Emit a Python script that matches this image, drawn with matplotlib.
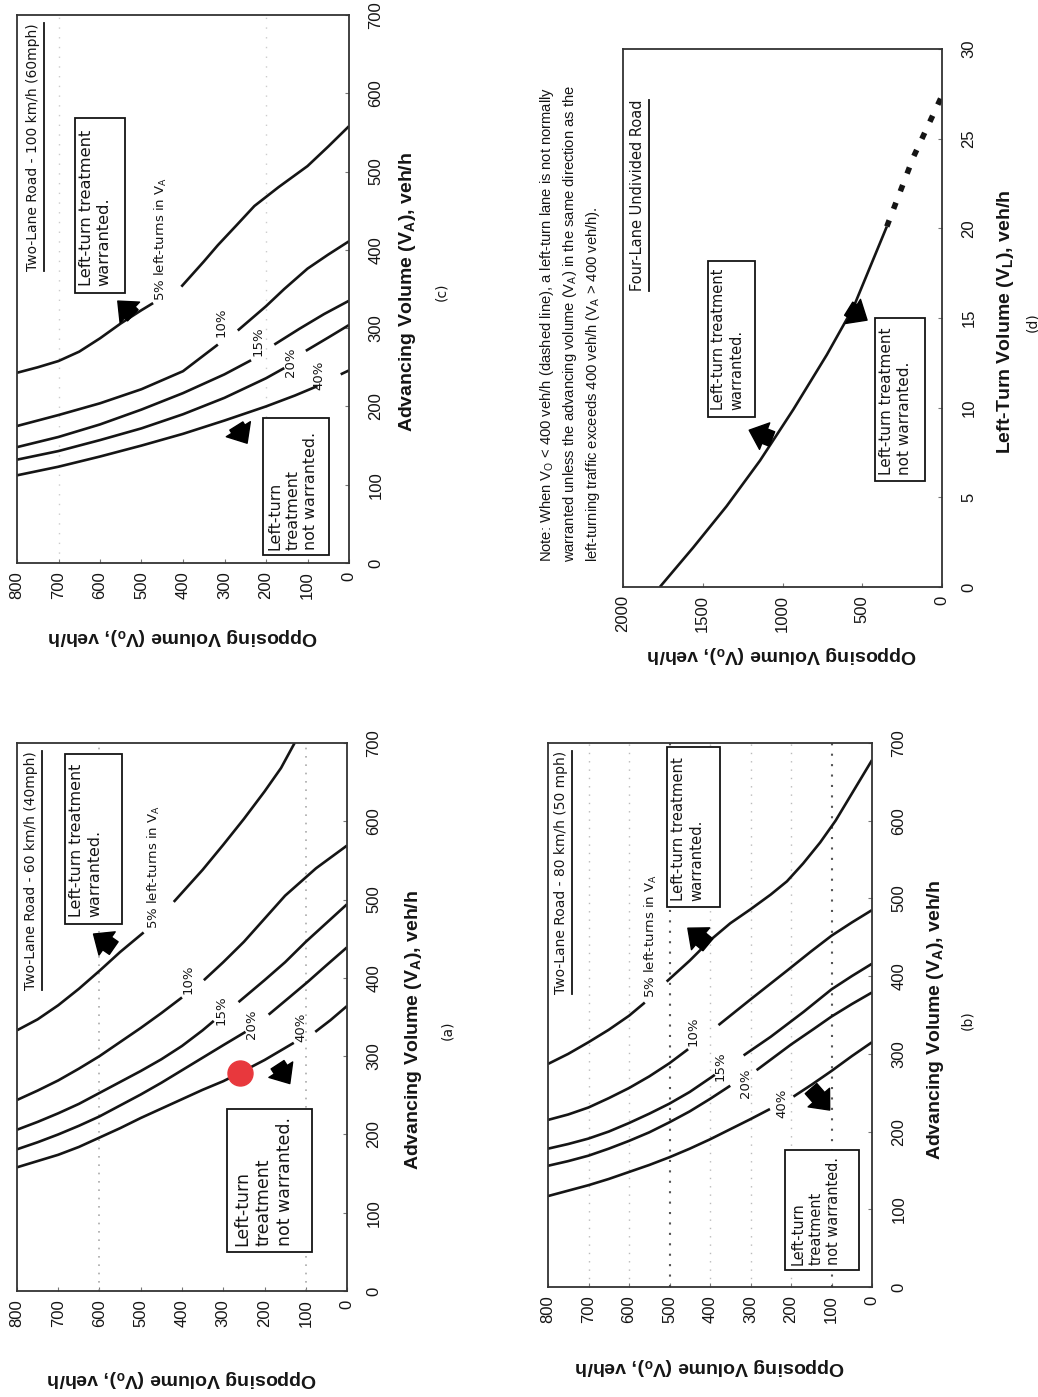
import numpy as np
import matplotlib.pyplot as plt
from matplotlib.patches import FancyArrowPatch, Rectangle

nan = np.nan
W, H = 1038, 1397

plt.rcParams['font.family'] = ['Liberation Sans', 'DejaVu Sans']
plt.rcParams['mathtext.fontset'] = 'custom'
plt.rcParams['mathtext.rm'] = 'Liberation Sans'
plt.rcParams['mathtext.bf'] = 'Liberation Sans:bold'

PCT = ["5% left-turns in V$_\\mathregular{A}$", "10%", "15%", "20%", "40%"]

# (a) Two-lane road, 60 km/h: opposing volume and advancing volume (veh/h)
# one list per curve, nan = gap where the curve label sits
A_OPP = [
    [800, 750, 700, 650, 600, 550, 493, nan, 420, 350, 300, 250, 200, 160, 127],
    [800, 750, 700, 650, 600, 550, 500, 450, 400, nan, 347, 300, 250, 150, 75, 0],
    [800, 750, 700, 650, 600, 550, 500, 450, 400, 350, 323, nan, 263, 200, 150, 100, 50, 0],
    [800, 750, 700, 650, 600, 550, 500, 450, 400, 350, 300, 246, nan, 190, 140, 95, 50, 0],
    [800, 750, 700, 650, 600, 550, 500, 450, 400, 350, 300, 262, 200, 129, nan, 77, 40, 0],
]
A_ADV = [
    [333, 347, 365, 386, 409, 433, 458, nan, 497, 538, 570, 603, 638, 668, 700],
    [244, 256, 269, 284, 300, 318, 336, 355, 375, nan, 397, 420, 446, 505, 540, 569],
    [206, 216, 227, 239, 253, 267, 281, 296, 313, 333, 345, nan, 369, 397, 420, 446, 470, 494],
    [181, 190, 200, 211, 223, 237, 251, 266, 282, 298, 314, 331, nan, 353, 375, 395, 416, 439],
    [158, 166, 174, 184, 196, 208, 221, 233, 245, 257, 268, 278, 295, 317, nan, 331, 346, 364],
]
A_POINT_OPP = [259]
A_POINT_ADV = [278]

# (b) Two-lane road, 80 km/h
B_OPP = [
    [800, 750, 700, 650, 600, 561, nan, 507, 450, 400, 350, 300, 250, 210, 170, 128, 90, 45, 0],
    [800, 750, 700, 650, 600, 550, 500, 454, nan, 379, 300, 210, 150, 100, 50, 0],
    [800, 750, 700, 650, 600, 550, 500, 450, 388, nan, 317, 250, 169, 100, 50, 0],
    [800, 750, 700, 650, 600, 550, 500, 450, 400, 350, nan, 285, 200, 144, 100, 50, 0],
    [800, 750, 700, 650, 600, 550, 500, 450, 400, 350, 300, 252, nan, 194, 150, 100, 50, 0],
]
B_ADV = [
    [287, 300, 315, 331, 349, 366, nan, 393, 420, 446, 468, 486, 505, 522, 545, 572, 600, 639, 678],
    [215, 222, 231, 243, 256, 271, 288, 306, nan, 337, 370, 407, 432, 452, 469, 485],
    [178, 184, 191, 200, 211, 223, 236, 251, 273, nan, 298, 322, 354, 383, 400, 416],
    [156, 162, 169, 178, 188, 199, 212, 226, 242, 259, nan, 279, 312, 332, 348, 364, 379],
    [117, 124, 131, 139, 148, 157, 167, 178, 190, 203, 216, 229, nan, 245, 260, 278, 297, 315],
]

# (c) Two-lane road, 100 km/h
C_OPP = [
    [800, 750, 700, 650, 600, 550, 500, 472, nan, 404, 350, 316, 270, 228, 170, 100, 50, 0],
    [800, 700, 600, 500, 400, 316, nan, 268, 200, 156, 100, 50, 0],
    [800, 700, 600, 500, 400, 300, 236, nan, 180, 120, 60, 0],
    [800, 700, 600, 500, 400, 300, 200, 156, nan, 104, 50, 0],
    [800, 700, 600, 500, 400, 300, 200, 130, 76, nan, 20, 0],
]
C_ADV = [
    [243, 250, 258, 270, 287, 306, 323, 332, nan, 353, 385, 406, 432, 456, 480, 507, 532, 558],
    [175, 189, 204, 222, 245, 279, nan, 297, 328, 350, 376, 394, 411],
    [148, 161, 177, 196, 217, 241, 259, nan, 279, 299, 318, 335],
    [132, 143, 157, 172, 190, 211, 236, 249, nan, 271, 288, 304],
    [112, 123, 136, 150, 165, 182, 200, 214, 226, nan, 241, 246],
]

# (d) Four-lane undivided road: opposing volume vs left-turn volume (veh/h)
D_OPP = [1769, 1560, 1351, 1141, 932, 722, 555, 346]
D_VL = [0, 2.2, 4.5, 7.05, 9.9, 12.95, 15.6, 20.1]
D_OPP_DASH = [346, 178, 0]
D_VL_DASH = [20.1, 24.0, 27.4]

TWO_LANE_TICKS_OPP = [0, 100, 200, 300, 400, 500, 600, 700, 800]
TWO_LANE_TICKS_ADV = [0, 100, 200, 300, 400, 500, 600, 700]
D_TICKS_OPP = [0, 500, 1000, 1500, 2000]
D_TICKS_VL = [0, 5, 10, 15, 20, 25, 30]

INK = '#151515'
WIDE = 'DejaVu Sans'
fig = plt.figure(figsize=(W / 100, H / 100), dpi=100)
fig.patch.set_facecolor('white')
renderer = fig.canvas.get_renderer()


def rot_axes(box, opp_max, adv_max, opp_ticks, adv_ticks):
    """Chart drawn turned a quarter turn: opposing volume runs right to left
    along the bottom, advancing volume runs upward on the right."""
    x0, y0, x1, y1 = box
    ax = fig.add_axes([x0 / W, 1 - y1 / H, (x1 - x0) / W, (y1 - y0) / H])
    ax.set_xlim(opp_max, 0)
    ax.set_ylim(0, adv_max)
    ax.set_xticks(opp_ticks)
    ax.set_yticks(adv_ticks)
    ax.yaxis.tick_right()
    ax.tick_params(axis='both', direction='in', length=3, color='#777',
                   labelsize=12, labelcolor=INK)
    ax.tick_params(axis='x', labelrotation=90, pad=6)
    ax.tick_params(axis='y', labelrotation=90, pad=14)
    for lab in ax.get_yticklabels():
        lab.set_va('center')
    for s in ax.spines.values():
        s.set_color('#333')
        s.set_linewidth(1.3)
    return ax


def text_box(ax, lo, hi, bot, top, s):
    ax.add_patch(Rectangle((lo, bot), hi - lo, top - bot, fill=True, fc='white',
                           ec=INK, lw=1.3, zorder=3))
    t = ax.text(hi - (hi - lo) * 0.07, bot + (top - bot) * 0.04, s, rotation=90,
                ha='left', va='bottom', multialignment='left', fontsize=10,
                family=WIDE, linespacing=1.25, color=INK, zorder=4)
    # size the text so it runs nearly the whole box, as in the scan,
    # without spilling out sideways
    p0 = ax.transData.transform((lo, bot))
    p1 = ax.transData.transform((hi, top))
    bb = t.get_window_extent(renderer)
    k = min(0.9 * abs(p1[1] - p0[1]) / bb.height, 0.82 * abs(p1[0] - p0[0]) / bb.width)
    t.set_fontsize(10 * k)


def title(ax, x, s, y=0.985, va='top', size=10):
    t = ax.text(x, y, s, rotation=90, ha='center', va=va, fontsize=size, family=WIDE,
                color=INK, transform=ax.get_xaxis_transform())
    bb = t.get_window_extent(renderer).transformed(ax.transAxes.inverted())
    ux = bb.x1 + 0.012
    ax.plot([ux, ux], [bb.y0, bb.y1], color=INK, lw=1.3, transform=ax.transAxes)


def block_arrow(ax, tail, head):
    ax.add_patch(FancyArrowPatch(tail, head, mutation_scale=17, color='black',
                                 arrowstyle='simple,head_length=0.7,head_width=1.2,tail_width=0.65',
                                 zorder=5))


def curves(ax, opps, advs):
    for opp, adv in zip(opps, advs):
        ax.plot(opp, adv, color=INK, lw=1.9, solid_capstyle='butt')


def curve_labels(ax, xs, ys):
    for s, x, y in zip(PCT, xs, ys):
        ax.text(x, y, s, rotation=90, ha='center', va='bottom', fontsize=9.5,
                family=WIDE, color=INK)


def axis_labels(box, adv_text, tag, adv_dx, tag_dx, cy, opp_dy):
    x0, y0, x1, y1 = box
    fig.text((x1 + adv_dx) / W, 1 - cy / H, adv_text, rotation=90, ha='center',
             va='center', fontsize=14, fontweight='bold', color=INK)
    fig.text((x1 + tag_dx) / W, 1 - cy / H, tag, rotation=90, ha='center',
             va='center', fontsize=10, family=WIDE, color=INK)
    fig.text((x0 + x1) / 2 / W, 1 - (y1 + opp_dy) / H,
             'Opposing Volume (V$_\\mathregular{o}$), veh/h', rotation=180,
             ha='center', va='center', fontsize=14, fontweight='bold', color=INK)


ADV_LABEL = 'Advancing Volume (V$_\\mathregular{A}$), veh/h'

# ---------------- (a) ----------------
A_BOX = (17, 743, 347, 1291)
ax = rot_axes(A_BOX, 800, 700, TWO_LANE_TICKS_OPP, TWO_LANE_TICKS_ADV)
for g in [600, 100]:
    ax.axvline(g, color='#aaa', ls=(0, (1, 4)), lw=1.2)
curves(ax, A_OPP, A_ADV)
ax.plot(A_POINT_OPP, A_POINT_ADV, 'o', color='#e8383d', ms=18, zorder=6)
title(ax, 767, 'Two-Lane Road - 60 km/h (40mph)')
text_box(ax, 545, 683, 469, 686, 'Left-turn treatment\nwarranted.')
text_box(ax, 85, 291, 50, 233, 'Left-turn\ntreatment\nnot warranted.')
curve_labels(ax, [467, 385, 305, 232, 112], [462, 380, 340, 322, 318])
block_arrow(ax, (560, 436), (620, 458))
block_arrow(ax, (172, 292), (135, 262))
axis_labels(A_BOX, ADV_LABEL, '(a)', 66, 100, 1030, 88)

# ---------------- (b) ----------------
B_BOX = (548, 743, 872, 1287)
ax = rot_axes(B_BOX, 800, 700, TWO_LANE_TICKS_OPP, TWO_LANE_TICKS_ADV)
for g in [700, 600, 400, 300, 200]:
    ax.axvline(g, color='#bbb', ls=(0, (1, 5)), lw=1.0)
for g in [500, 100]:
    ax.axvline(g, color='#555', ls=(0, (1, 4)), lw=1.5)
curves(ax, B_OPP, B_ADV)
title(ax, 767, 'Two-Lane Road - 80 km/h (50 mph)')
text_box(ax, 375, 505, 489, 695, 'Left-turn treatment\nwarranted.')
text_box(ax, 33, 214, 22, 176, 'Left-turn\ntreatment\nnot warranted.')
curve_labels(ax, [545, 441, 375, 313, 223], [372, 310, 265, 243, 218])
block_arrow(ax, (400, 438), (460, 464))
block_arrow(ax, (155, 258), (100, 225))
axis_labels(B_BOX, ADV_LABEL, '(b)', 64, 95, 1020, 80)

# ---------------- (c) ----------------
C_BOX = (17, 15, 349, 563)
ax = rot_axes(C_BOX, 800, 700, TWO_LANE_TICKS_OPP, TWO_LANE_TICKS_ADV)
for g in [700, 200]:
    ax.axvline(g, color='#ccc', ls=(0, (1, 6)), lw=1.0)
curves(ax, C_OPP, C_ADV)
title(ax, 762, 'Two-Lane Road - 100 km/h (60mph)')
text_box(ax, 540, 660, 345, 568, 'Left-turn treatment\nwarranted.')
text_box(ax, 48, 208, 10, 185, 'Left-turn\ntreatment\nnot warranted.')
curve_labels(ax, [452, 308, 220, 140, 72], [335, 289, 264, 238, 221])
block_arrow(ax, (516, 314), (562, 337))
block_arrow(ax, (275, 178), (242, 150))
axis_labels(C_BOX, ADV_LABEL, '(c)', 58, 92, 292, 74)

# ---------------- (d) ----------------
D_BOX = (623, 49, 942, 587)
ax = rot_axes(D_BOX, 2000, 30, D_TICKS_OPP, D_TICKS_VL)
curves(ax, [D_OPP], [D_VL])
ax.plot(D_OPP_DASH, D_VL_DASH, color=INK, lw=4, ls=(0, (1.2, 2.2)))
title(ax, 1906, 'Four-Lane Undivided Road', y=0.55, va='bottom', size=10.5)
text_box(ax, 1173, 1466, 9.5, 18.2, 'Left-turn treatment\nwarranted.')
text_box(ax, 105, 419, 5.9, 15.0, 'Left-turn treatment\nnot warranted.')
block_arrow(ax, (1050, 8.2), (1225, 8.8))
block_arrow(ax, (600, 15.6), (455, 14.8))
axis_labels(D_BOX, 'Left-Turn Volume (V$_\\mathregular{L}$), veh/h', '(d)', 63, 90, 322, 68)

fig.text(570 / W, 1 - 562 / H,
         'Note: When V$_\\mathregular{O}$ < 400 veh/h (dashed line), a left-turn lane is not normally\n'
         'warranted unless the advancing volume (V$_\\mathregular{A}$) in the same direction as the\n'
         'left-turning traffic exceeds 400 veh/h (V$_\\mathregular{A}$ > 400 veh/h).',
         rotation=90, ha='center', va='bottom', multialignment='left', fontsize=10.6,
         linespacing=1.35, color=INK)

fig.savefig('out.png', dpi=100)
